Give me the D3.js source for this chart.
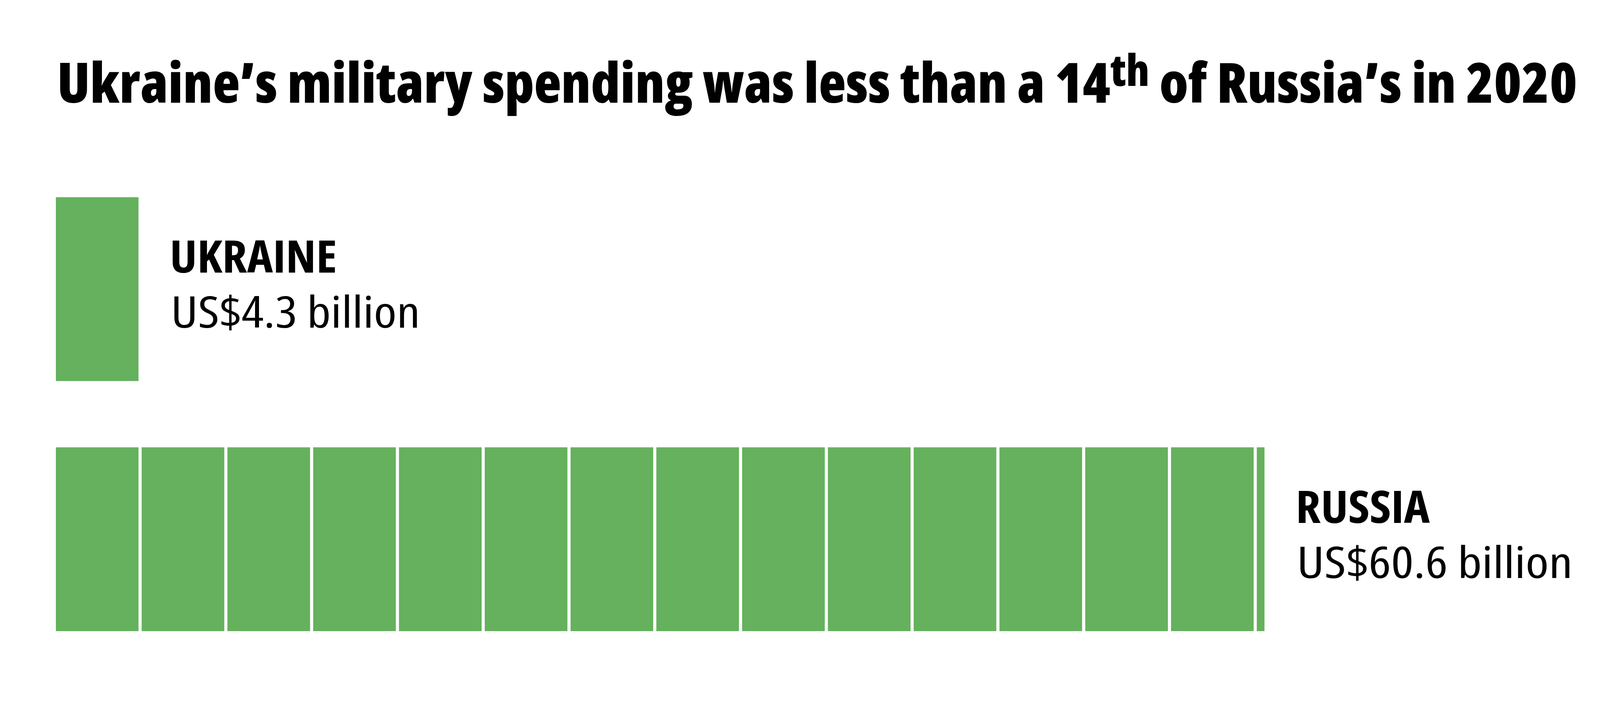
<!DOCTYPE html>
<html>
<head>
<meta charset="utf-8">
<script src="https://cdn.jsdelivr.net/npm/d3@7"></script>
<style>
  html, body { margin: 0; padding: 0; background: #fff; }
  svg text { font-family: "Open Sans", "Liberation Sans Narrow", "DejaVu Sans Condensed", sans-serif; font-stretch: condensed; fill: #000; }
</style>
</head>
<body>
<svg id="chart" width="4160" height="1800"></svg>
<script>
// data
const countries = ["Ukraine", "Russia"];
const spending = [4.3, 60.6]; // US$ billion, 2020
const valueLabels = ["US$4.3 billion", "US$60.6 billion"];
const titleParts = ["Ukraine’s military spending was less than a 14", "th", " of Russia’s in 2020"];

const green = "#65b15d";
const unit = spending[0];   // one block = Ukraine's spending
const gap = 8;

const svg = d3.select("#chart");

// title
const title = svg.append("text")
    .attr("x", 146)
    .attr("y", 263)
    .attr("font-size", 142)
    .attr("font-weight", 800)
    .attr("textLength", 3892)
    .attr("lengthAdjust", "spacingAndGlyphs");
title.append("tspan").text(titleParts[0]);
title.append("tspan").attr("font-size", 112).attr("dy", -43).text(titleParts[1]);
title.append("tspan").attr("dy", 43).text(titleParts[2]);

const x = d3.scaleLinear().domain([0, unit]).range([0, 219.6]);
const y = d3.scaleBand().domain(countries).range([505, 1616]).paddingInner(0.265);
const x0 = 143;

const rows = countries.map((c, i) => {
  const v = spending[i];
  const n = Math.floor(v / unit + 1e-9);
  const rest = v - n * unit;
  const blocks = d3.range(n).map(k => ({ start: k * unit, w: x(unit) - gap }));
  if (rest > 1e-6) blocks.push({ start: n * unit, w: x(rest) * (x(unit) - gap) / x(unit) });
  return { country: c, value: v, label: valueLabels[i], blocks: blocks };
});

const g = svg.selectAll("g.row")
  .data(rows)
  .enter().append("g")
    .attr("class", "row")
    .attr("transform", d => `translate(0,${y(d.country)})`);

g.selectAll("rect")
  .data(d => d.blocks)
  .enter().append("rect")
    .attr("x", b => x0 + x(b.start))
    .attr("y", 0)
    .attr("width", b => b.w)
    .attr("height", y.bandwidth())
    .attr("fill", green);

const labelX = d => x0 + d3.max(d.blocks, b => x(b.start) + b.w) + 80;
const mid = y.bandwidth() / 2;

g.append("text")
    .attr("x", labelX)
    .attr("y", mid - 42)
    .attr("font-size", 114)
    .attr("font-weight", 700)
    .attr("textLength", (d, i) => i === 0 ? 428 : 343)
    .attr("lengthAdjust", "spacingAndGlyphs")
    .text(d => d.country.toUpperCase());

g.append("text")
    .attr("x", d => labelX(d) + 3)
    .attr("y", mid + 99)
    .attr("font-size", 112)
    .attr("font-weight", 400)
    .attr("textLength", (d, i) => i === 0 ? 638 : 706)
    .attr("lengthAdjust", "spacingAndGlyphs")
    .text(d => d.label);
</script>
</body>
</html>
